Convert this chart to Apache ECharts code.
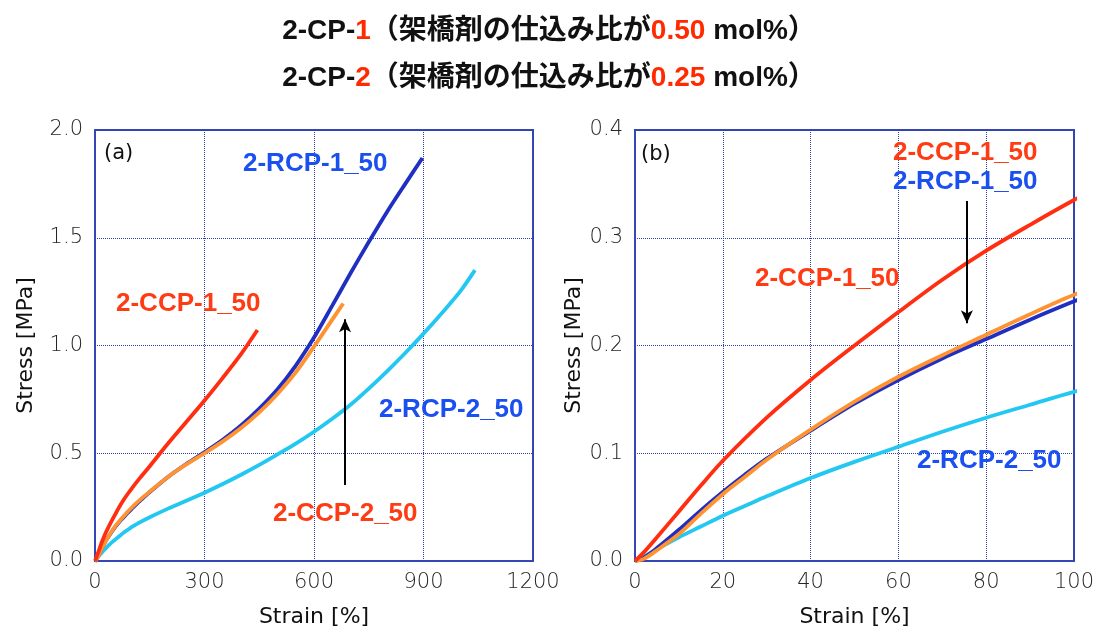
<!DOCTYPE html>
<html>
<head>
<meta charset="utf-8">
<script src="https://cdn.jsdelivr.net/npm/echarts@6/dist/echarts.min.js"></script>
<style>
  html, body { margin: 0; padding: 0; background: #ffffff; }
  #chart { width: 1098px; height: 630px; }
</style>
</head>
<body>
<div id="chart"></div>
<script>
// Stress–strain curves: [strain %, stress MPa]
const ccp1_50 = [[0,0],[2,0.008],[5,0.022],[10,0.046],[15,0.07],[20,0.093],[30,0.133],[40,0.168],[50,0.2],[60,0.231],[70,0.261],[80,0.288],[90,0.312],[100,0.335],[120,0.379],[150,0.44],[200,0.545],[250,0.645],[300,0.745],[350,0.85],[400,0.96],[445,1.072]];
const rcp1_50 = [[0,0],[2,0.003],[5,0.012],[10,0.029],[15,0.047],[20,0.064],[25,0.08],[30,0.095],[40,0.121],[50,0.146],[60,0.168],[70,0.188],[80,0.206],[90,0.224],[100,0.241],[120,0.274],[150,0.32],[200,0.39],[250,0.45],[300,0.505],[350,0.563],[400,0.629],[450,0.707],[500,0.797],[550,0.907],[600,1.037],[650,1.185],[700,1.335],[750,1.48],[800,1.62],[850,1.75],[897,1.87]];
const ccp2_50 = [[0,0],[2,0.002],[5,0.01],[10,0.025],[15,0.044],[20,0.062],[25,0.078],[30,0.094],[40,0.122],[50,0.148],[60,0.171],[70,0.191],[80,0.21],[90,0.229],[100,0.247],[120,0.279],[150,0.322],[200,0.39],[250,0.448],[300,0.5],[350,0.555],[400,0.617],[450,0.69],[500,0.775],[550,0.875],[600,0.995],[650,1.12],[680,1.195]];
const rcp2_50 = [[0,0],[2,0.004],[5,0.011],[10,0.022],[15,0.032],[20,0.042],[25,0.051],[30,0.06],[40,0.077],[50,0.092],[60,0.106],[70,0.12],[80,0.133],[90,0.145],[100,0.157],[120,0.177],[150,0.203],[200,0.243],[250,0.28],[300,0.317],[350,0.357],[400,0.4],[450,0.446],[500,0.495],[550,0.545],[600,0.6],[650,0.66],[700,0.725],[750,0.8],[800,0.88],[850,0.965],[900,1.055],[950,1.15],[1000,1.25],[1041,1.35]];

// Arrow endpoints [strain, stress] in each panel
const arrowA = [[685, 0.353], [685, 1.122]];
const arrowB = [[75.6, 0.334], [75.6, 0.2206]];

// Axis ranges and tick steps
const xTicksA = { min: 0, max: 1200, interval: 300 };
const yTicksA = { min: 0, max: 2.0, interval: 0.5 };
const xTicksB = { min: 0, max: 100, interval: 20 };
const yTicksB = { min: 0, max: 0.4, interval: 0.1 };

const COLORS = { ccp1: '#ff2e10', rcp1: '#1f2fc2', ccp2: '#ff9231', rcp2: '#22c7f2' };
const LABEL_RED = '#ff3b14';
const LABEL_BLUE = '#1a4ff0';
const FRAME = '#3547b5';
const GRIDLINE = '#2c3da8';
const AXIS_FONT = '"DejaVu Sans", sans-serif';
const LABEL_FONT = '"Liberation Sans", Arial, sans-serif';
const TITLE_FONT = '"Liberation Sans", "Noto Sans CJK JP", sans-serif';

const chart = echarts.init(document.getElementById('chart'), null, { renderer: 'canvas' });

function xAxis(gridIndex, t) {
  return {
    gridIndex, type: 'value', min: t.min, max: t.max, interval: t.interval,
    name: 'Strain [%]', nameLocation: 'middle', nameGap: 45,
    nameTextStyle: { fontSize: 22, color: '#111', fontFamily: AXIS_FONT },
    axisLine: { show: true, lineStyle: { color: FRAME, width: 2 } },
    axisTick: { show: false },
    axisLabel: { fontSize: 21, color: '#262626', fontFamily: AXIS_FONT, fontWeight: 300, margin: 11,
                 formatter: v => String(v) },
    splitLine: { show: true, lineStyle: { color: GRIDLINE, type: 'dotted', width: 1 } }
  };
}
function yAxis(gridIndex, t, gap) {
  return {
    gridIndex, type: 'value', min: t.min, max: t.max, interval: t.interval,
    name: 'Stress [MPa]', nameLocation: 'middle', nameGap: gap,
    nameTextStyle: { fontSize: 22, color: '#111', fontFamily: AXIS_FONT },
    axisLine: { show: true, lineStyle: { color: FRAME, width: 2 } },
    axisTick: { show: false },
    axisLabel: { fontSize: 21, color: '#262626', fontFamily: AXIS_FONT, fontWeight: 300, margin: 12,
                 formatter: v => v.toFixed(1) },
    splitLine: { show: true, lineStyle: { color: GRIDLINE, type: 'dotted', width: 1 } }
  };
}
function curve(data, color, xi, extra) {
  return Object.assign({
    type: 'line', data, xAxisIndex: xi, yAxisIndex: xi,
    showSymbol: false, smooth: 0.3, clip: true, silent: true,
    lineStyle: { color, width: 3.8 }, itemStyle: { color }
  }, extra || {});
}
function arrow(pts) {
  return {
    silent: true, symbol: ['none', 'arrow'], symbolSize: [9, 13],
    label: { show: false },
    itemStyle: { color: '#000' },
    lineStyle: { color: '#000', width: 2, type: 'solid' },
    emphasis: { disabled: true },
    data: [[{ coord: pts[0] }, { coord: pts[1] }]]
  };
}
function txt(x, y, text, color, size, weight, family) {
  return {
    type: 'text', z: 100,
    style: { x, y, text, fill: color, font: `${weight || 'bold'} ${size || 26}px ${family || LABEL_FONT}`,
             textAlign: 'left', textVerticalAlign: 'middle' }
  };
}

const titleRich = {
  b: { fontSize: 28, fontWeight: 'bold', color: '#111', fontFamily: TITLE_FONT },
  r: { fontSize: 28, fontWeight: 'bold', color: '#ff2a00', fontFamily: TITLE_FONT }
};

chart.setOption({
  animation: false,
  backgroundColor: '#ffffff',
  title: [
    { text: '{b|2-CP-}{r|1}{b|（架橋剤の仕込み比が}{r|0.50}{b| mol%）}', left: 'center', top: 12,
      textStyle: { rich: titleRich } },
    { text: '{b|2-CP-}{r|2}{b|（架橋剤の仕込み比が}{r|0.25}{b| mol%）}', left: 'center', top: 59,
      textStyle: { rich: titleRich } }
  ],
  grid: [
    { left: 95, top: 130, width: 438, height: 431, show: true, borderColor: FRAME, borderWidth: 2,
      containLabel: false, outerBoundsMode: 'none' },
    { left: 635, top: 130, width: 439, height: 431, show: true, borderColor: FRAME, borderWidth: 2,
      containLabel: false, outerBoundsMode: 'none' }
  ],
  xAxis: [xAxis(0, xTicksA), xAxis(1, xTicksB)],
  yAxis: [yAxis(0, yTicksA, 58), yAxis(1, yTicksB, 46)],
  series: [
    curve(rcp2_50, COLORS.rcp2, 0),
    curve(rcp1_50, COLORS.rcp1, 0),
    curve(ccp2_50, COLORS.ccp2, 0, { markLine: arrow(arrowA) }),
    curve(ccp1_50, COLORS.ccp1, 0),
    curve(rcp2_50, COLORS.rcp2, 1),
    curve(rcp1_50, COLORS.rcp1, 1),
    curve(ccp2_50, COLORS.ccp2, 1),
    curve(ccp1_50, COLORS.ccp1, 1, { markLine: arrow(arrowB) })
  ],
  graphic: [
    txt(104, 154, '(a)', '#111', 21, 'normal', '"DejaVu Sans"'),
    txt(243, 164, '2-RCP-1_50', LABEL_BLUE),
    txt(116, 304, '2-CCP-1_50', LABEL_RED),
    txt(379, 410, '2-RCP-2_50', LABEL_BLUE),
    txt(273, 514, '2-CCP-2_50', LABEL_RED),
    txt(641, 155, '(b)', '#111', 21, 'normal', '"DejaVu Sans"'),
    txt(893, 153, '2-CCP-1_50', LABEL_RED),
    txt(893, 182, '2-RCP-1_50', LABEL_BLUE),
    txt(755, 279, '2-CCP-1_50', LABEL_RED),
    txt(917, 461, '2-RCP-2_50', LABEL_BLUE)
  ]
});
</script>
</body>
</html>
